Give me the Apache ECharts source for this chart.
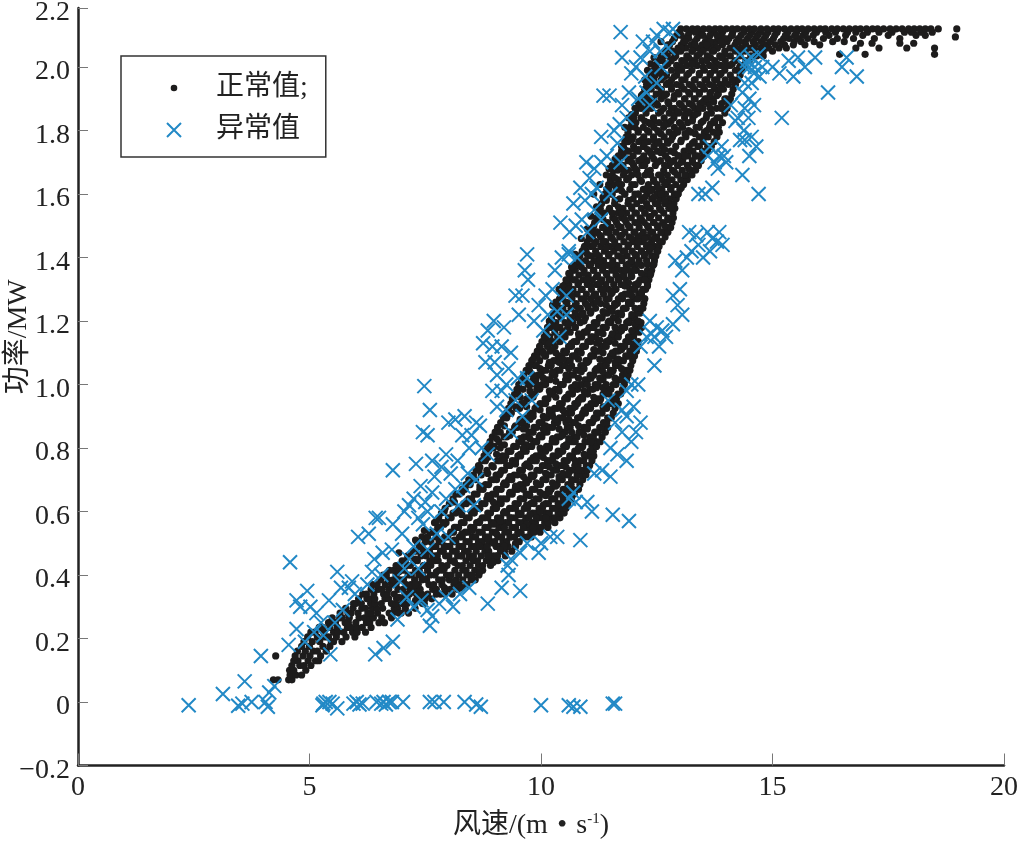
<!DOCTYPE html>
<html><head><meta charset="utf-8">
<style>html,body{margin:0;padding:0;background:#fff}#c{width:1018px;height:841px}</style>
<script src="https://cdn.jsdelivr.net/npm/echarts@6/dist/echarts.min.js"></script>
</head><body><div id="c"></div>
<script>
const xTitle='风速/(m\u200a • \u200as{sup|-1})';
const yTitle='功率/MW';
const normalName='正常值;';
const abnormalName='异常值';
// normal points, one row per power level: [power, [wind speeds]]
const normalLow=[
[0.07,[4.22,4.32,4.55,4.62]],[0.085,[4.58,4.71,4.83]],[0.1,[4.57,4.66,4.92]],[0.115,[4.62,4.79,4.88,5.03]],[0.13,[4.66,4.75,4.97,5.13,5.2]],[0.145,[4.27,4.69,4.86,5.01,5.24]],
[0.16,[4.74,4.91,5.08,5.17,5.36]],[0.175,[4.83,5.0,5.29,5.44]],[0.19,[4.88,5.06,5.22,5.47,5.7,5.52]],[0.205,[4.96,5.17,5.33,5.41,5.58,5.79,5.98]],
[0.22,[5.03,5.12,5.31,5.52,5.61,5.74,5.93,6.03,6.21]],[0.235,[5.21,5.28,5.44,5.6,5.82,5.89,6.02,6.14,6.33]],[0.25,[5.41,5.47,5.56,5.77,5.84,6.0,6.23,6.3,6.5,6.62]],[0.265,[5.49,5.65,5.71,5.86,6.07,6.19,6.31,6.38,6.56,6.77]],
[0.28,[5.66,5.83,5.9,6.05,6.26,6.33,6.47,6.72,6.8,6.98,7.14]],[0.295,[5.78,5.94,6.13,6.21,6.36,6.45,6.58,6.83,6.9,7.07,7.28]],[0.31,[5.95,6.0,6.12,6.32,6.41,6.55,6.77,6.86,7.0,7.11,7.27,7.44]],[0.325,[6.06,6.24,6.3,6.41,6.63,6.71,6.88,7.03,7.11,7.36,7.5,7.64]],
[0.34,[6.15,6.23,6.39,6.6,6.68,6.83,7.06,7.16,7.31,7.42,7.55,7.83,7.92,8.08]],[0.355,[6.33,6.48,6.56,6.71,6.91,7.02,7.17,7.25,7.39,7.66,7.74,7.94,8.04,8.2]],[0.37,[6.37,6.46,6.64,6.78,6.87,7.09,7.19,7.35,7.58,7.68,7.86,8.12,8.23,8.4]],[0.385,[6.54,6.7,6.81,6.95,7.03,7.27,7.43,7.53,7.79,7.87,8.02,8.17,8.31,8.49,8.58]],
[0.4,[6.59,6.66,6.87,7.13,7.2,7.36,7.44,7.61,7.71,7.96,8.06,8.22,8.4,8.48,8.66]],[0.415,[6.73,6.82,6.95,7.04,7.29,7.37,7.55,7.79,7.88,8.14,8.31,8.38,8.57,8.74]],[0.43,[6.87,6.94,7.11,7.18,7.46,7.53,7.62,7.86,7.97,8.21,8.3,8.47,8.65,8.74,8.91]],[0.445,[7.0,7.07,7.27,7.33,7.6,7.71,7.78,8.04,8.12,8.38,8.56,8.63,8.82,8.9,9.07]],
[0.46,[7.12,7.17,7.41,7.52,7.67,7.76,7.94,8.01,8.2,8.27,8.45,8.54,8.71,8.97,9.06,9.23]],[0.475,[7.24,7.3,7.46,7.59,7.83,7.89,8.09,8.17,8.35,8.43,8.6,8.79,8.87,9.13,9.21,9.37]],[0.49,[7.37,7.43,7.67,7.73,7.95,8.03,8.23,8.31,8.5,8.58,8.76,8.84,9.03,9.1,9.29,9.45]],[0.505,[7.32,7.5,7.62,7.8,7.86,8.1,8.16,8.38,8.45,8.65,8.72,8.92,9.0,9.18,9.26,9.53]],
[0.52,[7.43,7.55,7.92,7.99,8.24,8.3,8.52,8.59,8.8,8.87,9.07,9.15,9.34,9.43,9.62,9.71,9.79]],[0.535,[7.61,7.67,7.72,8.05,8.11,8.36,8.42,8.66,8.73,8.95,9.02,9.22,9.3,9.5,9.57,9.78,9.85,9.98]],[0.55,[7.77,7.83,8.17,8.22,8.48,8.55,8.79,8.86,9.09,9.16,9.37,9.45,9.65,9.73,9.93,10.01,10.15]],[0.565,[7.7,7.88,7.95,8.28,8.34,8.61,8.67,8.93,9.0,9.23,9.3,9.52,9.6,9.81,9.88,10.08,10.16,10.3]],
[0.58,[7.79,8.0,8.06,8.39,8.45,8.73,8.79,9.06,9.13,9.37,9.44,9.67,9.74,9.96,10.03,10.23,10.3,10.41]],[0.595,[7.85,8.1,8.16,8.5,8.56,8.85,8.91,9.19,9.26,9.51,9.57,9.82,9.89,10.1,10.18,10.37,10.44,10.5]],[0.61,[7.93,8.22,8.27,8.61,8.67,8.97,9.02,9.32,9.38,9.64,9.71,9.96,10.03,10.25,10.32,10.46,10.54]],[0.625,[8.02,8.33,8.39,8.72,8.79,9.08,9.14,9.44,9.51,9.78,9.85,10.1,10.16,10.37,10.44,10.58]],
[0.64,[8.1,8.44,8.5,8.83,8.91,9.19,9.26,9.56,9.63,9.89,9.96,10.23,10.3,10.48,10.55,10.66]],[0.655,[8.16,8.24,8.56,8.62,8.95,9.02,9.32,9.38,9.68,9.75,10.03,10.1,10.36,10.43,10.6,10.72]],[0.67,[8.3,8.36,8.68,8.75,9.07,9.14,9.44,9.5,9.81,9.87,10.16,10.22,10.48,10.54,10.69,10.81]],[0.685,[8.38,8.47,8.8,8.87,9.19,9.25,9.55,9.62,9.92,9.99,10.28,10.35,10.58,10.65,10.84]],
[0.7,[8.44,8.59,8.92,8.98,9.3,9.37,9.67,9.74,10.04,10.11,10.39,10.46,10.68,10.76,10.9]],[0.715,[8.54,8.71,9.03,9.1,9.42,9.49,9.79,9.85,10.16,10.22,10.5,10.57,10.78,10.87,10.97]],[0.73,[8.6,8.66,8.83,9.15,9.21,9.54,9.6,9.91,9.97,10.27,10.34,10.62,10.68,10.89,11.0]],[0.745,[8.65,8.94,9.26,9.33,9.65,9.72,10.03,10.09,10.38,10.45,10.73,10.8,10.98,11.05]],
[0.76,[8.72,8.8,9.06,9.12,9.38,9.45,9.77,9.83,10.14,10.21,10.5,10.57,10.84,10.92,11.1]],[0.775,[8.77,9.17,9.24,9.5,9.56,9.89,9.95,10.26,10.33,10.62,10.68,10.95,11.01,11.14]],[0.79,[8.81,8.87,9.29,9.35,9.62,9.68,10.0,10.06,10.37,10.44,10.73,10.79,11.06,11.13]],[0.805,[8.85,8.99,9.41,9.47,9.73,9.8,10.12,10.18,10.49,10.55,10.84,10.9,11.1,11.2]]];
const normalLower2=[
[0.82,[8.9,9.09,9.52,9.59,9.84,9.91,10.24,10.3,10.6,10.67,10.95,11.02,11.19,11.28]],[0.835,[8.95,9.2,9.26,9.63,9.7,9.96,10.02,10.35,10.41,10.71,10.78,11.06,11.13,11.32]],[0.85,[9.01,9.32,9.38,9.74,9.8,10.07,10.13,10.46,10.52,10.82,10.89,11.16,11.24,11.39]],[0.865,[9.06,9.43,9.49,9.85,9.91,10.18,10.25,10.57,10.63,10.93,11.0,11.27,11.33,11.44]],
[0.88,[9.13,9.54,9.6,9.96,10.02,10.29,10.36,10.68,10.74,11.04,11.11,11.35,11.42]],[0.895,[9.19,9.26,9.65,9.71,10.07,10.13,10.4,10.47,10.79,10.85,11.15,11.21,11.44,11.52]],[0.91,[9.25,9.36,9.76,9.83,10.18,10.24,10.51,10.58,10.9,10.96,11.25,11.32,11.56]],[0.925,[9.3,9.47,9.54,9.87,9.94,10.29,10.35,10.62,10.69,11.01,11.07,11.35,11.42,11.6]],
[0.94,[9.35,9.58,9.64,9.98,10.05,10.4,10.46,10.73,10.79,11.12,11.18,11.46,11.52,11.67]],[0.955,[9.38,9.69,9.75,10.09,10.15,10.51,10.57,10.84,10.9,11.23,11.29,11.56,11.63]],[0.97,[9.43,9.5,9.8,9.86,10.2,10.26,10.62,10.68,10.95,11.01,11.34,11.4,11.66,11.72]],[0.985,[9.48,9.61,9.91,9.97,10.31,10.37,10.73,10.79,11.06,11.12,11.45,11.51,11.76]],
[1.0,[9.52,9.72,9.78,10.02,10.08,10.42,10.48,10.84,10.9,11.17,11.23,11.56,11.62,11.8]],[1.015,[9.58,9.83,9.89,10.13,10.19,10.53,10.59,10.95,11.01,11.28,11.34,11.67,11.73,11.85]],[1.03,[9.63,9.94,10.0,10.24,10.3,10.64,10.7,11.06,11.12,11.39,11.45,11.76,11.88]],[1.045,[9.68,9.74,10.05,10.11,10.35,10.41,10.75,10.81,11.17,11.23,11.5,11.56,11.84,11.92]],
[1.06,[9.74,9.86,10.16,10.22,10.46,10.52,10.86,10.92,11.28,11.34,11.61,11.67,11.94]],[1.075,[9.8,9.97,10.27,10.33,10.57,10.63,10.97,11.03,11.39,11.45,11.72,11.78,11.98]],[1.09,[9.86,9.92,10.08,10.38,10.44,10.68,10.74,11.08,11.14,11.5,11.56,11.83,11.89,12.02]],[1.105,[9.92,10.03,10.19,10.49,10.55,10.79,10.85,11.19,11.25,11.61,11.67,11.92,12.06]],
[1.12,[9.97,10.14,10.3,10.6,10.66,10.9,10.96,11.3,11.36,11.72,11.78,11.99,12.09]],[1.135,[10.02,10.08,10.25,10.41,10.71,10.77,11.01,11.07,11.41,11.47,11.83,11.89,12.1]],[1.15,[10.07,10.19,10.36,10.52,10.82,10.88,11.12,11.18,11.52,11.58,11.94,12.0]],[1.165,[10.11,10.3,10.47,10.63,10.93,10.99,11.23,11.29,11.63,11.69,12.02,12.12]],
[1.18,[10.14,10.2,10.41,10.58,10.74,11.04,11.1,11.34,11.4,11.74,11.8,12.06,12.14]],[1.195,[10.19,10.32,10.52,10.69,10.85,11.15,11.21,11.45,11.51,11.85,11.91,12.16]],[1.21,[10.23,10.43,10.63,10.8,10.96,11.26,11.32,11.56,11.62,11.96,12.02]],[1.225,[10.27,10.33,10.54,10.74,10.91,11.07,11.37,11.43,11.67,11.73,12.07,12.14]],
[1.24,[10.31,10.45,10.65,10.85,11.02,11.18,11.48,11.54,11.78,11.84,12.13,12.2]],[1.255,[10.35,10.56,10.76,10.96,11.13,11.29,11.59,11.65,11.89,11.95,12.22]],[1.27,[10.4,10.46,10.67,10.87,11.07,11.24,11.4,11.7,11.76,12.0,12.06,12.24]],[1.285,[10.44,10.58,10.78,10.98,11.18,11.35,11.51,11.81,11.87,12.11,12.17]],
[1.3,[10.48,10.69,10.89,11.09,11.29,11.46,11.62,11.92,11.98,12.2,12.26]],[1.315,[10.52,10.6,10.8,11.0,11.2,11.4,11.57,11.73,12.03,12.09,12.3]],[1.33,[10.58,10.71,10.91,11.11,11.31,11.51,11.68,11.84,12.14,12.2,12.33]],[1.345,[10.63,10.82,11.02,11.22,11.42,11.62,11.79,11.95,12.25,12.36]],
[1.36,[10.68,10.74,10.93,11.13,11.33,11.53,11.73,11.9,12.06,12.3,12.39]],[1.375,[10.73,10.85,11.04,11.24,11.44,11.64,11.84,12.01,12.17,12.42]],[1.39,[10.79,10.96,11.15,11.35,11.55,11.75,11.95,12.12,12.28,12.45]]];
const normalMid=[
[1.405,[10.84,11.07,11.26,11.46,11.66,11.86,12.06,12.23,12.39,12.48]],[1.42,[10.89,10.97,11.18,11.37,11.57,11.77,11.97,12.17,12.34,12.5]],[1.435,[10.94,11.08,11.29,11.48,11.68,11.88,12.08,12.28,12.45,12.55]],[1.45,[11.0,11.19,11.4,11.59,11.79,11.99,12.19,12.39,12.56,12.62]],
[1.465,[11.04,11.11,11.3,11.51,11.7,11.9,12.1,12.3,12.5,12.68]],[1.48,[11.08,11.22,11.41,11.62,11.81,12.01,12.21,12.41,12.61,12.74]],[1.495,[11.12,11.33,11.52,11.73,11.92,12.12,12.32,12.52,12.72,12.8]],[1.51,[11.16,11.44,11.63,11.84,12.03,12.23,12.43,12.63,12.83]],
[1.525,[11.2,11.26,11.55,11.74,11.95,12.14,12.34,12.54,12.74,12.86]],[1.54,[11.24,11.37,11.66,11.85,12.06,12.25,12.45,12.65,12.85]],[1.555,[11.28,11.48,11.77,11.96,12.17,12.36,12.56,12.76,12.89]],[1.57,[11.31,11.59,11.88,12.07,12.28,12.47,12.67,12.87]],
[1.585,[11.35,11.41,11.7,11.99,12.18,12.39,12.58,12.78,12.92]],[1.6,[11.38,11.52,11.81,12.1,12.29,12.5,12.69,12.89,12.96]],[1.615,[11.42,11.63,11.92,12.21,12.4,12.61,12.8,13.0]],[1.63,[11.46,11.56,11.74,12.03,12.32,12.51,12.72,12.91,13.08]],
[1.645,[11.5,11.67,11.85,12.14,12.43,12.62,12.83,13.02,13.16]],[1.66,[11.54,11.78,11.96,12.25,12.54,12.73,12.94,13.13,13.26]],[1.675,[11.58,11.66,11.89,12.07,12.36,12.65,12.84,13.05,13.24,13.34]],[1.69,[11.62,11.77,12.0,12.18,12.47,12.76,12.95,13.16,13.35,13.4]],
[1.705,[11.66,11.88,12.11,12.29,12.58,12.87,13.06,13.27,13.46]],[1.72,[11.7,11.78,11.99,12.22,12.4,12.69,12.98,13.17,13.38,13.52]],[1.735,[11.74,11.89,12.1,12.33,12.51,12.8,13.09,13.28,13.49,13.6]],[1.75,[11.78,12.0,12.21,12.44,12.62,12.91,13.2,13.39,13.6,13.68]],
[1.765,[11.81,11.88,12.11,12.32,12.55,12.73,13.02,13.31,13.5,13.74]],[1.78,[11.84,11.99,12.22,12.43,12.66,12.84,13.13,13.42,13.61,13.8]],[1.795,[11.88,12.1,12.33,12.54,12.77,12.95,13.24,13.53,13.72,13.85]],[1.81,[11.92,12.21,12.44,12.65,12.88,13.06,13.35,13.64,13.83]]];
const normalHigh=[
[1.825,[11.96,12.05,12.32,12.55,12.76,12.99,13.17,13.46,13.75,13.92]],[1.84,[12.0,12.16,12.43,12.66,12.87,13.1,13.28,13.57,13.86]],[1.855,[12.04,12.27,12.54,12.77,12.98,13.21,13.39,13.68,13.97]],[1.87,[12.08,12.16,12.38,12.65,12.88,13.09,13.32,13.5,13.79,14.02]],
[1.885,[12.12,12.27,12.49,12.76,12.99,13.2,13.43,13.61,13.9,14.05]],[1.9,[12.16,12.38,12.6,12.87,13.1,13.31,13.54,13.72,14.01,14.09]],[1.915,[12.2,12.27,12.49,12.71,12.98,13.21,13.42,13.65,13.83,14.12]],[1.93,[12.24,12.38,12.6,12.82,13.09,13.32,13.53,13.76,13.94,14.15]],
[1.945,[12.28,12.49,12.71,12.93,13.2,13.43,13.64,13.87,14.05,14.2]],[1.96,[12.33,12.6,12.82,13.04,13.31,13.54,13.75,13.98,14.16,14.25]],[1.975,[12.38,12.47,12.71,12.93,13.15,13.42,13.65,13.86,14.09,14.3]],[1.99,[12.43,12.58,12.82,13.04,13.26,13.53,13.76,13.97,14.2,14.34]],
[2.005,[12.48,12.69,12.93,13.15,13.37,13.64,13.87,14.08,14.31,14.4]],[2.02,[12.54,12.62,12.8,13.04,13.26,13.48,13.75,13.98,14.19,14.42,14.5]],[2.035,[12.6,12.73,12.91,13.15,13.37,13.59,13.86,14.09,14.3,14.53,14.66,14.8]],[2.05,[12.68,12.84,13.02,13.26,13.48,13.7,13.97,14.2,14.41,14.64,14.8,15.0]],
[2.06,[12.74,12.96,13.13,13.37,13.59,13.81,14.08,14.31,14.52,14.75,14.92,15.14,15.3]],[2.07,[12.78,13.03,13.24,13.48,13.7,13.92,14.19,14.42,14.63,14.86,15.06,15.26,15.45,15.7,16.02]],[2.08,[12.84,13.08,13.32,13.55,13.78,14.02,14.22,14.41,14.58,14.76,14.95,15.18,15.47,15.62,15.9,16.3,16.55]],[2.09,[12.88,13.13,13.37,13.61,13.85,14.06,14.26,14.46,14.64,14.82,15.02,15.24,15.36,15.56,15.76,16.1,16.4,16.75,17.2,17.75]],[2.1,[12.93,13.18,13.42,13.65,13.88,14.12,14.32,14.51,14.68,14.86,15.05,15.28,15.48,15.66,15.88,16.22,16.58,16.95,17.5,18.1,18.3]],
[2.11,[12.98,13.2,13.46,13.7,13.92,14.14,14.38,14.56,14.74,14.9,15.1,15.33,15.52,15.72,15.95,16.15,16.36,16.62,16.8,17.05,17.3,17.58,17.85,18.0,18.22,18.45]],
[2.12,[13.02,13.14,13.27,13.38,13.51,13.63,13.76,13.87,14.0,14.13,14.24,14.37,14.5,14.61,14.75,14.88,15.02,15.13,15.26,15.4,15.53,15.64,15.77,15.9,16.03,16.14,16.28,16.4,16.53,16.66,16.79,16.9,17.03,17.16,17.27,17.4,17.54,17.67,17.8,17.94,18.06,18.18,18.3,18.42,18.58,18.98]],
[2.06,[16.8,17.3,17.9,18.5]],[2.04,[16.45,17.0,18.5]],[2.095,[18.95]],[2.075,[16.9,17.15,17.75,18.05]]];
// further normal points, one column per wind speed: [wind speed, [powers]]
const normalColumns=[
[6.93,[0.28,0.33,0.41,0.47]],[7.29,[0.32,0.37,0.45,0.51]],[7.48,[0.31,0.39,0.43,0.54]],[7.74,[0.34,0.41,0.46,0.52,0.57]],[7.91,[0.36,0.42,0.49,0.56,0.6]],[8.13,[0.38,0.44,0.51,0.55,0.63]],[8.29,[0.36,0.46,0.53,0.59,0.66]],
[8.52,[0.4,0.45,0.54,0.6,0.63,0.7]],[8.68,[0.41,0.49,0.57,0.61,0.68,0.74]],[8.85,[0.46,0.51,0.58,0.65,0.72,0.77]],[9.04,[0.46,0.53,0.61,0.67,0.7,0.78,0.83]],[9.21,[0.49,0.55,0.6,0.69,0.76,0.81,0.87]],[9.33,[0.52,0.58,0.66,0.71,0.79,0.84,0.91]],
[9.55,[0.53,0.59,0.64,0.73,0.78,0.83,0.89,0.96]],[9.69,[0.56,0.62,0.69,0.75,0.81,0.87,0.93,1.01]],[9.83,[0.55,0.63,0.71,0.77,0.85,0.9,0.96,1.03,1.08]],[9.98,[0.6,0.66,0.73,0.8,0.84,0.92,0.99,1.05,1.12]],[10.1,[0.58,0.65,0.72,0.79,0.87,0.94,1.0,1.09,1.15]],[10.25,[0.64,0.69,0.76,0.83,0.9,0.97,1.04,1.11,1.19,1.25]],
[10.39,[0.62,0.71,0.78,0.86,0.93,0.98,1.07,1.14,1.22,1.3]],[10.54,[0.67,0.74,0.81,0.88,0.96,1.03,1.1,1.17,1.26,1.33]],[10.66,[0.7,0.77,0.85,0.91,0.99,1.06,1.13,1.21,1.28,1.37]],[10.81,[0.73,0.8,0.87,0.95,1.02,1.08,1.16,1.24,1.32,1.39]],[10.93,[0.78,0.84,0.92,0.98,1.05,1.12,1.2,1.27,1.35,1.43]],[11.08,[0.82,0.88,0.94,1.02,1.09,1.15,1.23,1.31,1.38,1.46,1.53]],
[11.2,[0.85,0.91,0.99,1.05,1.13,1.19,1.26,1.34,1.41,1.48,1.56]],[11.34,[0.93,0.99,1.04,1.1,1.16,1.23,1.3,1.37,1.45,1.52,1.59]],[11.47,[0.97,1.03,1.08,1.14,1.2,1.27,1.33,1.41,1.48,1.55,1.62,1.68]],[11.6,[1.02,1.07,1.13,1.18,1.25,1.3,1.36,1.44,1.52,1.58,1.65,1.71]],[11.74,[1.05,1.11,1.17,1.22,1.28,1.34,1.4,1.47,1.54,1.61,1.68,1.75]],
[11.89,[1.09,1.15,1.2,1.26,1.32,1.38,1.44,1.5,1.58,1.65,1.71,1.78,1.84]],[12.03,[1.13,1.19,1.24,1.3,1.36,1.41,1.48,1.54,1.6,1.68,1.74,1.81,1.87]],[12.17,[1.18,1.24,1.29,1.35,1.42,1.47,1.52,1.58,1.64,1.71,1.77,1.84,1.91]],[12.3,[1.31,1.38,1.44,1.5,1.56,1.62,1.67,1.74,1.8,1.87,1.93,1.99]],
[12.44,[1.38,1.46,1.51,1.59,1.64,1.71,1.77,1.83,1.9,1.96,2.03]],[12.59,[1.48,1.55,1.6,1.66,1.73,1.79,1.86,1.92,1.98,2.04,2.08]],[12.74,[1.52,1.57,1.64,1.71,1.76,1.82,1.89,1.95,2.01,2.07]],[12.88,[1.6,1.67,1.73,1.79,1.85,1.91,1.97,2.03,2.09]],
[13.03,[1.62,1.7,1.77,1.82,1.88,1.94,2.0,2.06,2.1]],[13.19,[1.68,1.74,1.8,1.86,1.92,1.98,2.03,2.09]],[13.33,[1.72,1.79,1.85,1.9,1.96,2.02,2.07,2.11]],[13.5,[1.78,1.83,1.89,1.94,2.0,2.05,2.1]],[13.66,[1.82,1.87,1.92,1.98,2.03,2.08]],[13.8,[1.84,1.91,1.96,2.01,2.06,2.1]],[13.97,[1.9,1.95,2.0,2.04,2.09]],[14.13,[1.96,2.01,2.06,2.1]],[14.29,[2.0,2.05,2.08]]];
const normalColumns2=[
[8.97,[0.44,0.5,0.56,0.63,0.74,0.8]],[9.12,[0.48,0.57,0.64,0.72,0.8,0.85]],[9.45,[0.5,0.61,0.68,0.75,0.87,0.93]],[9.62,[0.55,0.67,0.71,0.8,0.86,0.94]],[9.76,[0.59,0.65,0.74,0.83,0.89,0.98,1.04]],[9.9,[0.58,0.69,0.76,0.82,0.93,1.0,1.06]],[10.05,[0.62,0.7,0.77,0.86,0.9,1.02,1.1]],
[10.18,[0.66,0.74,0.8,0.92,0.98,1.07,1.13,1.2]],[10.32,[0.68,0.75,0.82,0.89,0.96,1.01,1.1,1.18,1.26]],[10.47,[0.72,0.79,0.84,0.92,1.0,1.08,1.15,1.24,1.31]],[10.6,[0.72,0.83,0.89,0.97,1.05,1.12,1.19,1.3,1.35]],[10.74,[0.76,0.82,0.93,1.0,1.09,1.18,1.25,1.33,1.41]],[10.87,[0.8,0.9,0.96,1.04,1.1,1.22,1.3,1.37,1.46]],
[11.0,[0.86,0.93,1.0,1.07,1.17,1.25,1.33,1.41,1.49]],[11.14,[0.89,0.96,1.03,1.11,1.18,1.28,1.36,1.44,1.5,1.6]],[11.27,[0.95,1.02,1.08,1.14,1.21,1.32,1.39,1.47,1.55,1.63]],[11.41,[1.0,1.06,1.12,1.18,1.25,1.35,1.43,1.5,1.58,1.66]],[11.54,[1.04,1.1,1.16,1.23,1.29,1.38,1.46,1.54,1.6,1.69]],[11.67,[1.08,1.15,1.2,1.27,1.33,1.43,1.5,1.56,1.63,1.72]],
[11.81,[1.12,1.18,1.24,1.31,1.36,1.42,1.52,1.6,1.67,1.74,1.81]],[11.96,[1.17,1.22,1.28,1.34,1.39,1.46,1.56,1.63,1.7,1.77,1.85]],[12.1,[1.2,1.27,1.32,1.38,1.45,1.51,1.6,1.66,1.74,1.8,1.89]],[12.24,[1.27,1.33,1.41,1.46,1.54,1.59,1.69,1.76,1.83,1.9,1.96]],[12.37,[1.35,1.43,1.48,1.53,1.61,1.66,1.73,1.82,1.89,1.95,2.01]],
[12.52,[1.42,1.5,1.57,1.62,1.7,1.76,1.8,1.88,1.94,2.02]],[12.67,[1.5,1.58,1.63,1.69,1.74,1.82,1.91,1.97,2.04]],[12.81,[1.56,1.62,1.7,1.77,1.83,1.87,1.94,2.02]],[12.96,[1.6,1.66,1.72,1.8,1.86,1.92,1.99,2.05]],[13.11,[1.66,1.72,1.79,1.85,1.9,1.96,2.02,2.08]],[13.27,[1.7,1.76,1.83,1.88,1.94,2.01,2.05]],[13.42,[1.75,1.81,1.87,1.92,1.98,2.04]],[13.58,[1.8,1.85,1.9,1.96,2.02,2.07]],[13.73,[1.83,1.89,1.94,2.0,2.05]],[13.89,[1.87,1.93,1.98,2.03,2.08]]];
// abnormal points: [wind speed, power]
const abnormalZero=[[2.39,-0.01],[3.13,0.025],[3.46,-0.012],[3.55,-0.005],[3.75,0],[3.6,0.065],[3.95,0.145],[4.05,0],[4.1,-0.015],[4.13,0.03],[4.24,0.05],[5.28,-0.01],[5.35,0],[5.3,-0.005],[5.43,0],[5.5,-0.005],[5.6,-0.02],[5.95,-0.005],[6.02,0],[6.08,-0.008],[6.15,-0.005],[6.45,0],[6.55,-0.005],[6.6,0],[6.65,-0.008],[6.72,0],[6.78,0],[7.02,0],[7.6,0],[7.7,0],[7.9,0],[8.35,0],[8.6,-0.008],[8.7,-0.015],[10.0,-0.01],[10.6,-0.01],[10.7,-0.015],[10.85,-0.015],[11.55,-0.005],[11.6,-0.005]];
const abnormalLowLeft=[[4.58,0.44],[4.72,0.32],[4.95,0.35],[4.8,0.3],[5.02,0.3],[4.72,0.23],[4.55,0.18],[4.9,0.19],[5.15,0.28],[5.25,0.25],[5.1,0.22],[5.3,0.21],[5.42,0.32],[5.6,0.41],[5.68,0.36],[5.85,0.36],[5.98,0.34],[5.92,0.38],[5.72,0.29],[5.55,0.25],[6.05,0.52],[6.28,0.53],[6.43,0.58],[6.5,0.58],[6.4,0.45],[6.58,0.47],[6.78,0.48],[6.8,0.73],[7.0,0.53],[6.8,0.56],[6.25,0.37],[6.35,0.41],[6.55,0.4],[5.45,0.15],[6.42,0.15],[6.6,0.17],[6.8,0.19],[6.9,0.26],[7.1,0.33],[7.25,0.3],[7.42,0.32],[7.55,0.29],[7.6,0.24],[7.65,0.27],[7.8,0.31],[7.95,0.33],[8.1,0.3],[8.25,0.34],[8.45,0.36],[8.85,0.31],[9.15,0.36],[9.3,0.4],[9.28,0.43],[9.55,0.35],[9.35,0.45],[9.55,0.47],[9.7,0.5],[9.95,0.47],[10.0,0.5],[10.2,0.52],[10.35,0.52],[10.6,0.64],[10.75,0.63],[10.7,0.66],[10.85,0.51],[11.0,0.63],[11.15,0.72],[11.32,0.73],[11.5,0.71],[11.55,0.59],[11.9,0.57],[11.85,0.76]];
const abnormalMidLeft=[[7.05,0.6],[7.15,0.62],[7.25,0.64],[7.35,0.58],[7.45,0.56],[7.55,0.6],[7.65,0.66],[7.5,0.63],[7.4,0.68],[7.3,0.75],[7.45,0.85],[7.55,0.84],[7.6,0.92],[7.48,0.995],[7.65,0.76],[7.7,0.71],[7.85,0.74],[7.95,0.78],[8.05,0.72],[8.2,0.76],[8.3,0.84],[8.45,0.8],[7.85,0.6],[7.95,0.64],[8.15,0.67],[8.0,0.52],[7.75,0.53],[8.0,0.88],[8.15,0.89],[8.35,0.9],[8.5,0.84],[8.6,0.88],[8.68,0.87],[8.72,0.8],[8.85,0.78],[8.95,0.98],[9.05,0.93],[9.15,0.98],[9.25,1.0],[9.05,1.03],[9.25,0.92],[8.8,1.07],[8.95,1.12],[8.75,1.13],[8.85,1.17],[9.0,1.07],[9.15,1.12],[9.2,1.18],[9.3,1.05],[9.35,1.1],[8.98,1.2],[9.45,1.28],[9.52,1.22],[9.6,1.28],[9.72,1.33],[9.65,1.36],[9.7,1.41],[9.85,1.2],[9.95,1.25],[10.1,1.28],[10.25,1.3],[10.05,1.17],[10.3,1.36],[10.45,1.4],[10.6,1.41],[10.55,1.28],[10.62,1.48],[10.75,1.5],[10.78,1.4],[10.42,1.51],[10.88,1.52],[10.95,1.58],[11.0,1.48],[11.1,1.6],[11.2,1.62],[11.05,1.65],[10.85,1.62],[11.15,1.55],[10.98,1.7],[11.15,1.68],[11.3,1.7],[11.42,1.72],[11.5,1.6],[11.3,1.78],[11.35,1.91],[11.48,1.91],[11.58,1.8],[11.7,1.82],[11.75,1.88],[11.85,1.84],[11.65,1.76],[11.72,1.7],[11.9,1.92],[11.95,1.98],[11.75,2.03],[11.72,2.11],[12.05,2.0],[12.15,2.03],[12.25,1.97],[12.35,2.05],[12.42,2.08],[12.5,2.1],[12.6,2.0],[12.2,2.08],[12.28,1.92],[12.1,1.9],[12.65,2.12],[12.78,2.11],[12.85,2.12],[12.75,2.06],[12.58,2.05],[12.35,1.88],[12.5,1.95]];
const abnormalDenseLeft=[[8.22,0.62],[8.32,0.68],[8.42,0.72],[8.55,0.62],[8.6,0.7],[7.25,0.49],[7.15,0.45],[7.05,0.42],[6.95,0.38],[7.35,0.42],[7.55,0.48],[9.8,0.95],[9.7,1.02],[9.6,0.9],[9.5,1.02],[9.35,0.85],[9.45,0.95],[10.4,1.15],[10.55,1.22],[10.15,1.22],[10.35,1.23],[11.3,1.52],[10.7,1.57],[10.6,1.42]];
const abnormalRight=[[11.1,0.6],[11.5,0.8],[11.6,0.88],[11.75,0.92],[11.85,0.9],[12.0,0.93],[12.15,0.88],[12.1,1.0],[11.95,1.0],[12.05,0.85],[11.45,0.95],[11.85,0.98],[11.95,0.82],[11.75,0.85],[11.65,0.78],[12.15,1.12],[12.28,1.15],[12.45,1.06],[12.35,1.2],[12.5,1.18],[12.62,1.17],[12.7,1.15],[12.85,1.19],[12.45,1.15],[12.38,1.16],[12.55,1.12],[12.95,1.25],[12.85,1.28],[13.0,1.3],[13.05,1.22],[12.9,1.39],[13.05,1.36],[13.15,1.4],[13.2,1.48],[13.4,1.44],[13.6,1.48],[13.65,1.42],[13.8,1.45],[13.85,1.48],[13.5,1.4],[13.35,1.47],[13.92,1.44],[13.7,1.46],[13.25,1.42],[13.55,1.6],[13.7,1.62],[13.4,1.6],[13.75,1.7],[13.82,1.68],[13.85,1.72],[13.95,1.72],[13.6,1.72],[13.65,1.75],[13.9,1.75],[14.0,1.7],[14.35,1.66],[14.7,1.6],[14.2,1.83],[14.3,1.77],[14.4,1.77],[14.5,1.72],[14.55,1.78],[14.65,1.75],[14.1,1.88],[14.25,1.84],[14.4,1.87],[14.38,1.8],[14.48,1.84],[14.5,1.9],[14.6,1.88],[14.35,1.92],[14.55,1.95],[14.6,1.98],[14.4,2.0],[14.45,2.02],[14.5,2.0],[14.55,2.03],[14.62,2.0],[14.7,2.04],[14.78,2.0],[14.3,2.04],[14.72,1.97],[14.4,1.95],[15.0,2.0],[15.2,1.84],[15.45,1.97],[15.55,2.03],[15.7,2.0],[15.92,2.03],[16.2,1.92],[16.5,2.0],[16.6,2.03],[16.82,1.97],[15.35,2.02],[15.15,1.98]];
const normalRows=[...normalLow,...normalLower2,...normalMid,...normalHigh];
const normalData=[...normalRows.flatMap(r=>r[1].map(x=>[x,r[0]])),...normalColumns.flatMap(c=>c[1].map(y=>[c[0],y])),...normalColumns2.flatMap(c=>c[1].map(y=>[c[0],y]))];
const abnormalData=[...abnormalZero,...abnormalLowLeft,...abnormalMidLeft,...abnormalDenseLeft,...abnormalRight];
const xTicks={min:0,max:20,interval:5};
const yTicks={min:-0.2,max:2.186,interval:0.2};

const serif='"Liberation Serif","Noto Sans CJK SC",serif';
const crossPath='path://M0 0L10 10M10 0L0 10';
const dotPath='path://M0 0M14 14M7 3.7A3.3 3.3 0 1 1 6.99 3.7Z';
const chart=echarts.init(document.getElementById('c'),null,{renderer:'canvas'});
chart.setOption({
 animation:false,backgroundColor:'#fff',
 grid:{left:78,top:8,right:14,bottom:75.5,outerBoundsMode:'none',containLabel:false},
 legend:{left:121,top:56,orient:'vertical',padding:[18,18,13,45],itemWidth:74,itemHeight:14,itemGap:14,
  borderColor:'#333',borderWidth:1.5,backgroundColor:'#fff',
  textStyle:{fontFamily:serif,fontSize:28,color:'#222'},
  data:[{name:normalName,icon:dotPath},{name:abnormalName,icon:crossPath}]},
 xAxis:{type:'value',...xTicks,splitLine:{show:false},
  axisLine:{lineStyle:{color:'#222',width:2.5},onZero:false},
  axisTick:{inside:true,length:12,lineStyle:{color:'#777',width:1}},
  axisLabel:{fontFamily:serif,fontSize:28,color:'#222',margin:8,formatter:v=>String(v)},
  name:xTitle,nameLocation:'middle',nameGap:46,nameMoveOverlap:false,
  nameTextStyle:{fontFamily:serif,fontSize:28,color:'#222',padding:[0,20,0,0],rich:{sup:{fontFamily:serif,fontSize:15,color:'#222',verticalAlign:'top',padding:[0,0,8,0]}}}},
 yAxis:{type:'value',...yTicks,splitLine:{show:false},
  axisLine:{lineStyle:{color:'#222',width:2.5},onZero:false},
  axisTick:{inside:true,length:10,lineStyle:{color:'#777',width:1}},
  axisLabel:{fontFamily:serif,fontSize:28,color:'#222',margin:8,verticalAlign:'top',lineHeight:10,showMinLabel:true,showMaxLabel:true,
   formatter:v=>v>2.1?'2.2':v<-0.1?'−0.2':Math.abs(v)<1e-6?'0':v.toFixed(1)},
  name:yTitle,nameLocation:'middle',nameGap:45,nameMoveOverlap:false,
  nameTextStyle:{fontFamily:serif,fontSize:28,color:'#222',padding:[0,0,0,100]}},
 series:[
  {name:normalName,type:'scatter',data:normalData,symbol:'circle',symbolSize:7.2,clip:false,itemStyle:{color:'#1d1c1c',opacity:1},emphasis:{disabled:true}},
  {name:abnormalName,type:'scatter',data:abnormalData,symbol:crossPath,symbolSize:14,clip:false,
   itemStyle:{color:'rgba(0,0,0,0)',borderColor:'#2289c6',borderWidth:2,opacity:1},emphasis:{disabled:true}}
 ]
});
</script></body></html>
